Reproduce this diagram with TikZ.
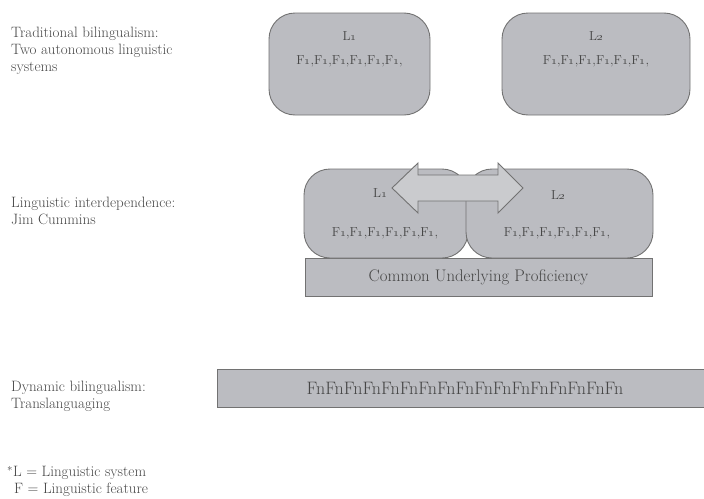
\documentclass[tikz,border=0pt]{standalone}
\usepackage{tikz}
\usetikzlibrary{positioning}
\definecolor{boxgray}{HTML}{BBBCC1}
\definecolor{arrowgray}{HTML}{CACBCE}
\definecolor{edgegray}{HTML}{727272}
\definecolor{inkgray}{HTML}{464646}
\tikzset{
  langbox/.style={%
    draw=edgegray,
    fill=boxgray,
    line width=0.9pt,
    rounded corners=26pt,
    inner sep=0,
  },
  flatbox/.style={%
    draw=edgegray,
    fill=boxgray,
    line width=0.9pt,
    inner sep=0,
  },
  sidelabel/.style={%
    anchor=north west,
    align=left,
    inner sep=0,
    text=inkgray,
    font=\fontsize{15}{17}\selectfont,
  },
  boxtext/.style={%
    inner sep=0,
    text=inkgray,
    align=center,
    font=\fontsize{13}{24}\selectfont,
  }
}
\newcommand\Lsys[1]{L\oldstylenums{#1}}
\newcommand\Frow{F\oldstylenums{1},F\oldstylenums{1},F\oldstylenums{1},F\oldstylenums{1},F\oldstylenums{1},F\oldstylenums{1},}

\begin{document}
\begin{tikzpicture}[x=1pt,y=-1pt]
    \useasboundingbox (0,0) rectangle (704,498);
    % left hand descriptions
    \node[sidelabel] (trad) at (11,27) {Traditional bilingualism:\\Two autonomous linguistic\\systems};
    \node[sidelabel] (inter) at (11,197) {Linguistic interdependence:\\Jim Cummins};
    \node[sidelabel] (dyn) at (11,381) {Dynamic bilingualism:\\Translanguaging};
    \node[sidelabel] (key) at (7,466) {$^{*}$L = Linguistic system\\\hspace*{7pt}F = Linguistic feature};
    % two autonomous systems
    \node[langbox, minimum width=161pt, minimum height=102pt] (topL1) at (349.5,64) {};
    \node[langbox, minimum width=188pt, minimum height=102pt] (topL2) at (596,64) {};
    \node[boxtext, below=37pt of topL1.north, anchor=center] (topL1txt) {\Lsys{1}\\\Frow};
    \node[boxtext, below=37pt of topL2.north, anchor=center] (topL2txt) {\Lsys{2}\\\Frow};
    % interdependence
    \node[flatbox, minimum width=347pt, minimum height=38pt] (cup) at (478.5,277.5)
        {\fontsize{16.8}{18}\selectfont\color{inkgray}Common Underlying Proficiency};
    \node[langbox, minimum width=164pt, minimum height=89pt] (midL1) at (386,213.5) {};
    \node[langbox, minimum width=187pt, minimum height=89pt] (midL2) at (559.5,213.5) {};
    \node[boxtext] (midL1name) at (380,193) {\Lsys{1}};
    \node[boxtext] (midL2name) at (558,195) {\Lsys{2}};
    \node[boxtext] (midL1feat) at (385,233) {\Frow};
    \node[boxtext] (midL2feat) at (557,233) {\Frow};
    \draw[draw=edgegray, fill=arrowgray, line width=0.9pt]
        (392,188) -- (418,163) -- (418,175) -- (498,175) -- (498,163) -- (523,188)
        -- (498,213) -- (498,201) -- (418,201) -- (418,213) -- cycle;
    % translanguaging
    \node[flatbox, minimum width=496pt, minimum height=38pt] (trans) at (465,388)
        {\fontsize{18}{20}\selectfont\color{inkgray}FnFnFnFnFnFnFnFnFnFnFnFnFnFnFnFnFn};
\end{tikzpicture}
\end{document}
